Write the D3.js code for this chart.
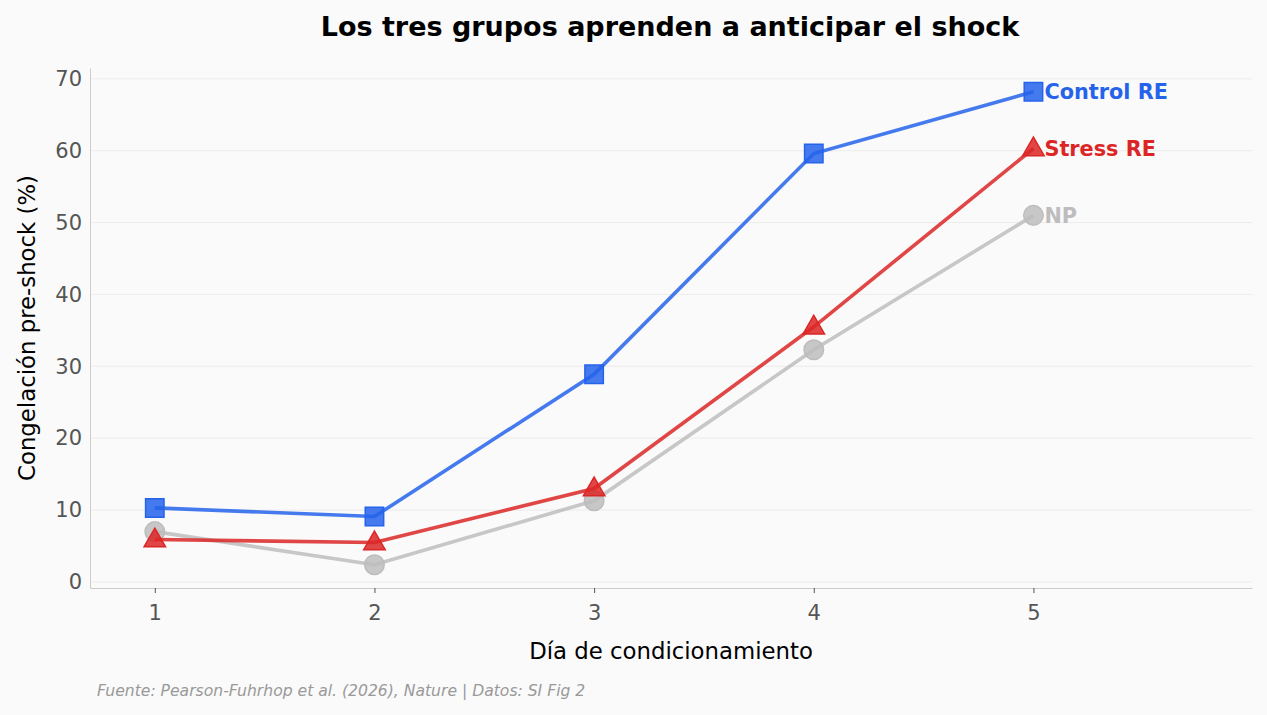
<!DOCTYPE html>
<html>
<head>
<meta charset="utf-8">
<script src="https://cdn.jsdelivr.net/npm/d3@7"></script>
<style>
  body { margin: 0; background: #fafafa; }
  svg { font-family: "DejaVu Sans", sans-serif; }
</style>
</head>
<body>
<div id="wrapper"></div>
<script>
const days = [1, 2, 3, 4, 5]
const controlRE = [10.3, 9.1, 28.9, 59.6, 68.2]
const stressRE = [5.9, 5.5, 13.0, 35.5, 60.3]
const np = [7.0, 2.4, 11.3, 32.3, 51.0]
const yTicks = [0, 10, 20, 30, 40, 50, 60, 70]

const seriesList = [
  {name: "NP", values: np, color: "#bdbdbd", text: "#bdbdbd", shape: d3.symbolCircle},
  {name: "Stress RE", values: stressRE, color: "#dc2626", text: "#dc2626", shape: d3.symbolTriangle},
  {name: "Control RE", values: controlRE, color: "#2563eb", text: "#2563eb", shape: d3.symbolSquare},
]

function drawLineChart() {
  const dimensions = {
    width: 1267,
    height: 715,
    margin: {top: 68, right: 15, bottom: 127, left: 90},
  }
  dimensions.boundedWidth = dimensions.width - dimensions.margin.left - dimensions.margin.right
  dimensions.boundedHeight = dimensions.height - dimensions.margin.top - dimensions.margin.bottom

  const svg = d3.select("#wrapper").append("svg")
    .attr("width", dimensions.width)
    .attr("height", dimensions.height)
  svg.append("rect").attr("width", dimensions.width).attr("height", dimensions.height).attr("fill", "#fafafa")

  const bounds = svg.append("g")
    .attr("transform", `translate(${dimensions.margin.left},${dimensions.margin.top})`)

  const xScale = d3.scaleLinear().domain([0.705, 5.995]).range([0, dimensions.boundedWidth])
  const yScale = d3.scaleLinear().domain([-0.84, 71.5]).range([dimensions.boundedHeight, 0])

  // grid
  bounds.append("g").selectAll("line").data(yTicks).join("line")
    .attr("x1", 0).attr("x2", dimensions.boundedWidth)
    .attr("y1", d => yScale(d)).attr("y2", d => yScale(d))
    .attr("stroke", "#e8e8e8").attr("stroke-width", 0.8)

  // axes
  const yAxis = bounds.append("g")
    .call(d3.axisLeft(yScale).tickValues(yTicks).tickSize(0).tickPadding(8))
  yAxis.select(".domain").attr("stroke", "#cccccc")
  yAxis.selectAll("text").attr("font-size", 21).attr("fill", "#555").attr("font-family", "DejaVu Sans")

  const xAxis = bounds.append("g")
    .attr("transform", `translate(0,${dimensions.boundedHeight})`)
    .call(d3.axisBottom(xScale).tickValues(days).tickSize(5).tickSizeOuter(0).tickPadding(12).tickFormat(d3.format("d")))
  xAxis.select(".domain").attr("stroke", "#cccccc")
  xAxis.selectAll(".tick line").attr("stroke", "#555")
  xAxis.selectAll("text").attr("font-size", 21).attr("fill", "#555").attr("font-family", "DejaVu Sans")

  // lines and markers
  const line = d3.line().x((d, i) => xScale(days[i])).y(d => yScale(d))
  seriesList.forEach(s => {
    bounds.append("path")
      .datum(s.values)
      .attr("d", line)
      .attr("fill", "none")
      .attr("stroke", s.color)
      .attr("stroke-opacity", 0.85)
      .attr("stroke-width", 3.6)
    const sym = d3.symbol().type(s.shape).size(s.shape === d3.symbolTriangle ? 200 : s.shape === d3.symbolSquare ? 340 : 300)
    bounds.selectAll(null).data(s.values).join("path")
      .attr("d", sym)
      .attr("transform", (d, i) => `translate(${xScale(days[i])},${yScale(d) + (s.shape === d3.symbolTriangle ? 1 : 0)})`)
      .attr("fill", s.color)
      .attr("fill-opacity", 0.85)
      .attr("stroke", s.color)
      .attr("stroke-width", 1.5)
    bounds.append("text")
      .text(s.name)
      .attr("x", xScale(days[4]) + 11)
      .attr("y", yScale(s.values[4]))
      .attr("dy", "0.35em")
      .attr("font-size", 20.8)
      .attr("font-weight", "bold")
      .attr("fill", s.text)
  })

  // titles
  svg.append("text")
    .text("Los tres grupos aprenden a anticipar el shock")
    .attr("x", 670).attr("y", 36)
    .attr("text-anchor", "middle")
    .attr("font-size", 27).attr("font-weight", "bold").attr("fill", "#000")
  svg.append("text")
    .text("Día de condicionamiento")
    .attr("x", dimensions.margin.left + dimensions.boundedWidth / 2).attr("y", 659)
    .attr("text-anchor", "middle")
    .attr("font-size", 22.8).attr("fill", "#000")
  svg.append("text")
    .text("Congelación pre-shock (%)")
    .attr("transform", `translate(35,${dimensions.margin.top + dimensions.boundedHeight / 2}) rotate(-90)`)
    .attr("text-anchor", "middle")
    .attr("font-size", 22.8).attr("fill", "#000")
  svg.append("text")
    .text("Fuente: Pearson-Fuhrhop et al. (2026), Nature | Datos: SI Fig 2")
    .attr("x", 97).attr("y", 696)
    .attr("font-size", 15.6).attr("font-style", "italic").attr("fill", "#999")
}

drawLineChart()
</script>
</body>
</html>
